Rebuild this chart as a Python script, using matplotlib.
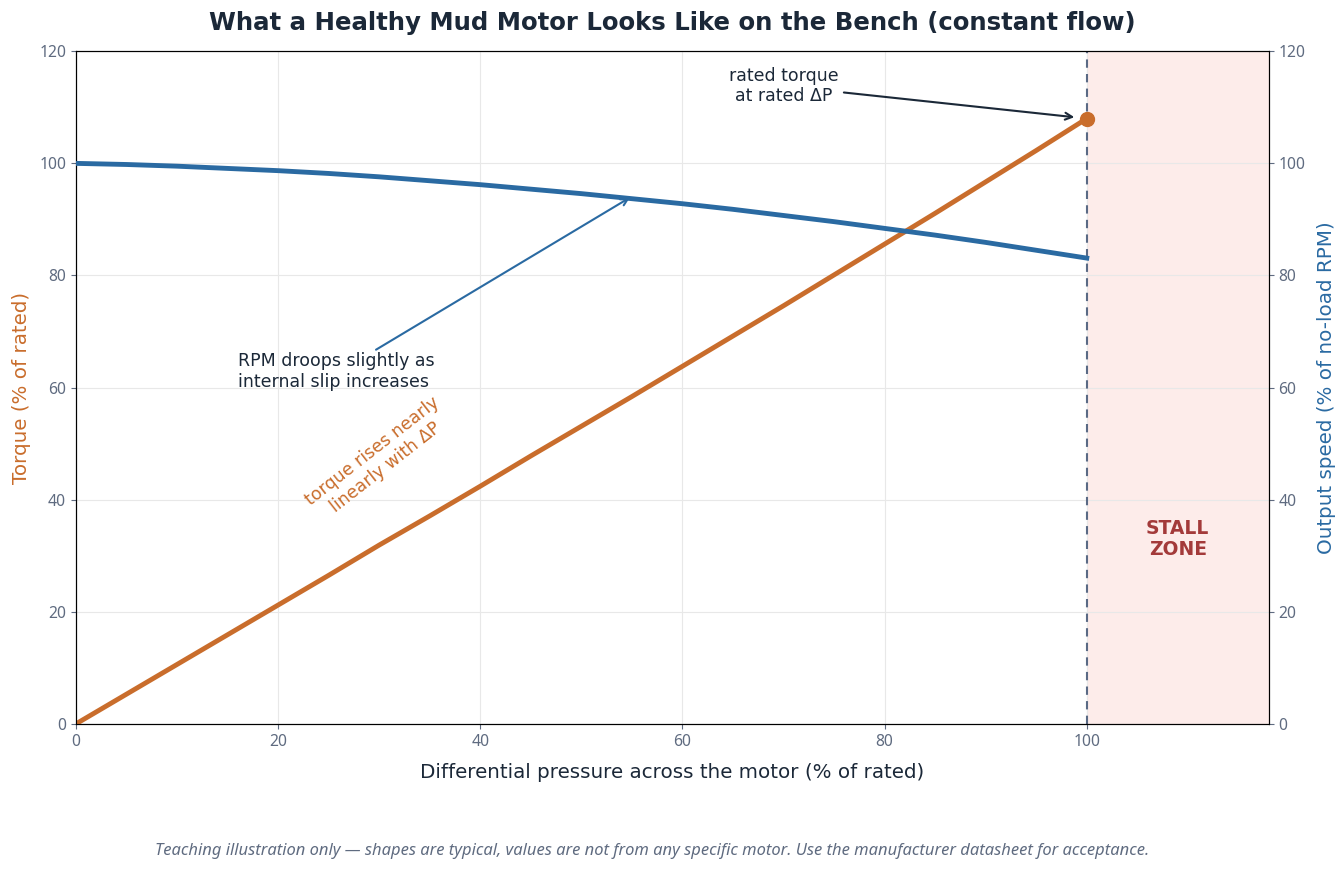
import matplotlib.pyplot as plt
import numpy as np

plt.rcParams['font.family'] = ['Noto Sans', 'DejaVu Sans']

# differential pressure (% of rated)
dp = [0, 5, 10, 15, 20, 25, 30, 35, 40, 45, 50, 55, 60, 65, 70, 75, 80, 85, 90, 95, 100]
torque = [0, 5.3, 10.6, 15.9, 21.2, 26.5, 31.9, 37.1, 42.4, 47.8, 53.1, 58.4, 63.8, 69.2, 74.6,
          80.1, 85.6, 91.1, 96.7, 102.3, 108]
rpm = [100, 99.8, 99.5, 99.1, 98.7, 98.2, 97.6, 96.9, 96.2, 95.4, 94.6, 93.7, 92.8, 91.8,
       90.7, 89.6, 88.4, 87.2, 85.9, 84.5, 83.1]

rated_dp = 100
rated_torque = 108
x_max = 118

orange = '#c96d2c'
blue = '#2a6aa2'
navy = '#1b2838'
tick_col = '#5f6b80'

fig, ax = plt.subplots(figsize=(13.44, 8.69), dpi=100)
fig.subplots_adjust(left=0.0565, right=0.944, top=0.941, bottom=0.167)
ax2 = ax.twinx()

ax.axvspan(rated_dp, x_max, color='#fdecea', zorder=0)
ax.axvline(rated_dp, color='#5a6a85', ls='--', lw=1.5, dashes=(4, 3), zorder=1)

ax.plot(dp, torque, color=orange, lw=3.5, zorder=3)
ax.plot([rated_dp], [rated_torque], 'o', color=orange, ms=10, zorder=4)
ax2.plot(dp, rpm, color=blue, lw=3.5, zorder=3)

for a in (ax, ax2):
    a.set_xlim(0, x_max)
    a.set_ylim(0, 120)
    a.set_yticks(range(0, 121, 20))
    a.tick_params(colors=tick_col, labelsize=11.3)
    for s in a.spines.values():
        s.set_color('black')
ax.set_xticks(range(0, 101, 20))
ax.grid(True, color='#e8e8e8', lw=0.8)
ax.set_axisbelow(True)

ax.set_xlabel('Differential pressure across the motor (% of rated)', fontsize=14.3, color=navy,
              family='DejaVu Sans', labelpad=10)
ax.set_ylabel('Torque (% of rated)', fontsize=14.3, color=orange, family='DejaVu Sans',
              labelpad=6)
ax2.set_ylabel('Output speed (% of no-load RPM)', fontsize=14.3, color=blue, family='DejaVu Sans',
               labelpad=8)
ax.set_title('What a Healthy Mud Motor Looks Like on the Bench (constant flow)',
             fontsize=17.6, fontweight='bold', color=navy, family='DejaVu Sans', pad=15)

ax.annotate('rated torque\nat rated ΔP', xy=(rated_dp, rated_torque), xytext=(70, 113.8),
            ha='center', va='center', fontsize=12.5, color=navy, family='DejaVu Sans',
            arrowprops=dict(arrowstyle='->', color=navy, lw=1.5, shrinkB=9, shrinkA=2),
            zorder=5)
ax.annotate('RPM droops slightly as\ninternal slip increases', xy=(54.8, 93.9), xytext=(16, 62.8),
            ha='left', va='center', fontsize=12.5, color=navy, family='DejaVu Sans',
            arrowprops=dict(arrowstyle='->', color=blue, lw=1.5, shrinkA=0, shrinkB=0,
                            relpos=(0.68, 1.0)),
            zorder=5)
ax.text(30.0, 47.2, 'torque rises nearly\nlinearly with ΔP', rotation=38, ha='center', va='center',
        fontsize=12.5, color=orange, family='DejaVu Sans', rotation_mode='anchor')
ax.text(109, 33, 'STALL\nZONE', ha='center', va='center', fontsize=13.5, fontweight='bold',
        color='#a33a3a', family='DejaVu Sans', linespacing=1.15)

fig.text(0.485, 0.016, 'Teaching illustration only — shapes are typical, values are not from any '
         'specific motor. Use the manufacturer datasheet for acceptance.',
         ha='center', fontsize=11.9, style='italic', color=tick_col)

fig.savefig('out.png', dpi=100)
